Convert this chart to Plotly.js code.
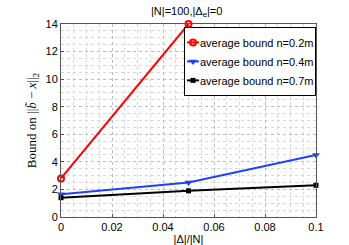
<!DOCTYPE html>
<html><head><meta charset="utf-8">
<script src="https://cdn.plot.ly/plotly-3.0.1.min.js"></script>
<style>body{margin:0;padding:0;background:#fff}</style>
</head><body>
<div id="chart" style="width:349px;height:245px"></div>
<script>
const xRed = [0, 0.05];
const yRed = [2.8, 14];
const xBlue = [0, 0.05, 0.1];
const yBlue = [1.65, 2.5, 4.5];
const xBlack = [0, 0.05, 0.1];
const yBlack = [1.4, 1.9, 2.3];
const names = ['average bound n=0.2m', 'average bound n=0.4m', 'average bound n=0.7m'];
const xTicks = [0, 0.02, 0.04, 0.06, 0.08, 0.1];
const xTickText = ['0', '0.02', '0.04', '0.06', '0.08', '0.1'];
const yTicks = [0, 2, 4, 6, 8, 10, 12, 14];

const traces = [
  {x: xRed, y: yRed, name: names[0], mode: 'lines+markers', cliponaxis: false, line: {color: '#ff0000', width: 2},
   marker: {symbol: 'circle-open', size: 6, color: '#ff0000', line: {width: 2}}},
  {x: xBlue, y: yBlue, name: names[1], mode: 'lines+markers', cliponaxis: false, line: {color: '#1f3fff', width: 2},
   marker: {symbol: 'triangle-down', size: 7, color: '#1f3fff'}},
  {x: xBlack, y: yBlack, name: names[2], mode: 'lines+markers', cliponaxis: false, line: {color: '#000000', width: 2},
   marker: {symbol: 'square', size: 5, color: '#000000'}}
];

const gridMinor = {showgrid: true, gridcolor: '#d8d8d8', griddash: 'dot', gridwidth: 1};
const layout = {
  width: 349, height: 245,
  margin: {l: 61, r: 33, t: 24, b: 28},
  paper_bgcolor: '#fff', plot_bgcolor: '#fff',
  font: {family: 'Liberation Sans, Arial, sans-serif', size: 11, color: '#000'},
  title: {text: '|N|=100,|Δ<sub>e</sub>|=0', x: 0.535, xanchor: 'center', y: 0.955, yanchor: 'middle',
          font: {size: 11, color: '#000'}},
  showlegend: true,
  legend: {x: 1, xanchor: 'right', y: 0.985, yanchor: 'top', bgcolor: '#fff', bordercolor: '#000', borderwidth: 1,
           font: {size: 11}, tracegroupgap: 0, itemwidth: 30},
  xaxis: {range: [0, 0.1], tickvals: xTicks, ticktext: xTickText, showline: true, mirror: true,
          linecolor: '#555', linewidth: 1, ticks: 'inside', ticklen: 3, tickcolor: '#555',
          showgrid: true, gridcolor: '#bbb', griddash: 'dot', gridwidth: 1, zeroline: false,
          minor: Object.assign({dtick: 0.005}, gridMinor),
          title: {text: '|Δ|/|N|', standoff: 2, font: {size: 11}}},
  yaxis: {range: [0, 14], tickvals: yTicks, showline: true, mirror: true,
          linecolor: '#555', linewidth: 1, ticks: 'inside', ticklen: 3, tickcolor: '#555',
          showgrid: true, gridcolor: '#bbb', griddash: 'dot', gridwidth: 1, zeroline: false,
          minor: Object.assign({dtick: 0.5}, gridMinor),
          title: {text: 'Bound on ||<i>b̃</i> − <i>x</i>||<sub>2</sub>', standoff: 5,
                  font: {family: 'Liberation Serif, DejaVu Serif, serif', size: 13}}}
};
Plotly.newPlot('chart', traces, layout, {displayModeBar: false, staticPlot: true}).then(() => {
  const shift = 29;
  document.querySelectorAll('.legend .traces').forEach(t => {
    t.querySelectorAll('.legendlines path').forEach(p => p.setAttribute('d', 'M2,0h12'));
    t.querySelectorAll('.legendpoints path').forEach(p => p.setAttribute('transform', 'translate(8,0)'));
    const tx = t.querySelector('text.legendtext');
    if (tx) tx.setAttribute('x', 15);
  });
  const lg = document.querySelector('.legend');
  const bg = lg.querySelector('rect.bg');
  if (bg) bg.setAttribute('width', parseFloat(bg.getAttribute('width')) - shift);
  const tr = lg.getAttribute('transform');
  const m = /translate\(([-\d.]+),\s*([-\d.]+)\)/.exec(tr);
  if (m) lg.setAttribute('transform', 'translate(' + (parseFloat(m[1]) + shift) + ',' + m[2] + ')');
});
</script>
</body></html>
